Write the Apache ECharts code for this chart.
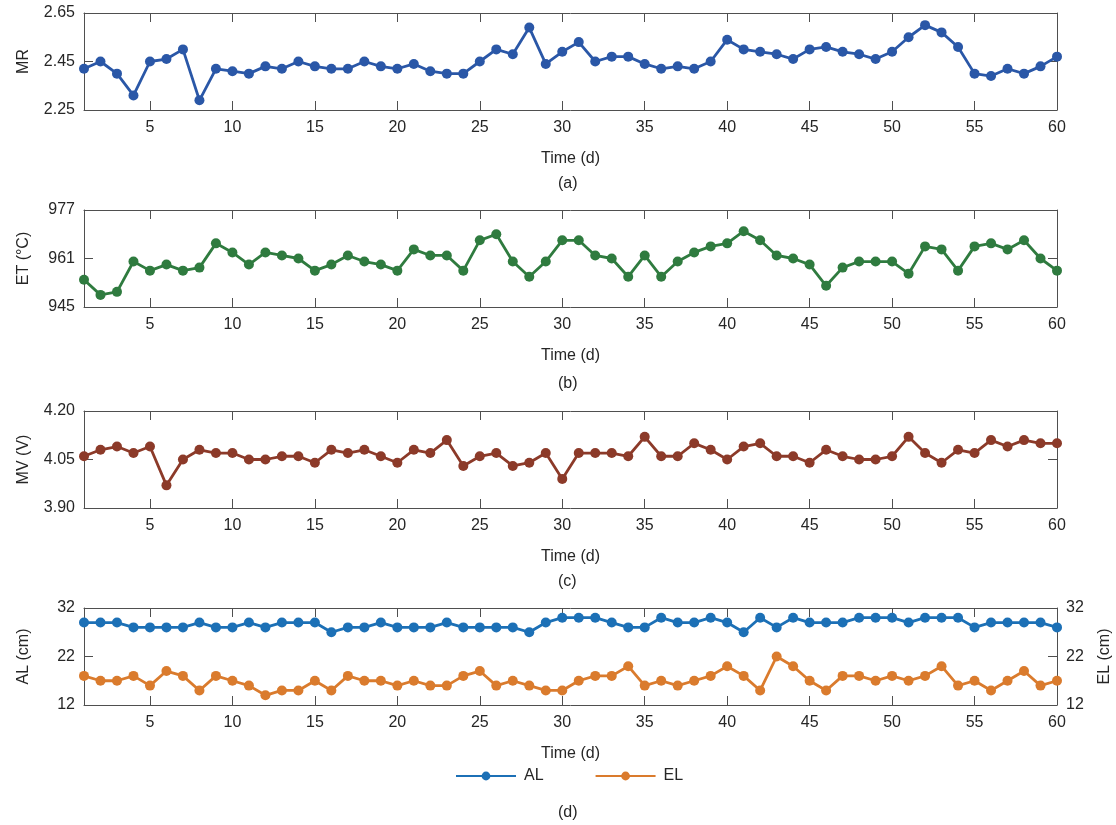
<!DOCTYPE html>
<html>
<head>
<meta charset="utf-8">
<script src="https://cdn.jsdelivr.net/npm/echarts@6/dist/echarts.min.js"></script>
<style>
html,body{margin:0;padding:0;background:#fff;}
#chart{width:1116px;height:825px;}
</style>
</head>
<body>
<div id="chart"></div>
<script>
const days = Array.from({length: 60}, (_, i) => i + 1);
const xTicks = [5, 10, 15, 20, 25, 30, 35, 40, 45, 50, 55, 60];

const MR = [2.42,2.45,2.40,2.31,2.45,2.46,2.50,2.29,2.42,2.41,
            2.40,2.43,2.42,2.45,2.43,2.42,2.42,2.45,2.43,2.42,
            2.44,2.41,2.40,2.40,2.45,2.50,2.48,2.59,2.44,2.49,
            2.53,2.45,2.47,2.47,2.44,2.42,2.43,2.42,2.45,2.54,
            2.50,2.49,2.48,2.46,2.50,2.51,2.49,2.48,2.46,2.49,
            2.55,2.60,2.57,2.51,2.40,2.39,2.42,2.40,2.43,2.47];
const mrTicks = [2.25, 2.45, 2.65];

const ET = [954,949,950,960,957,959,957,958,966,963,
            959,963,962,961,957,959,962,960,959,957,
            964,962,962,957,967,969,960,955,960,967,
            967,962,961,955,962,955,960,963,965,966,
            970,967,962,961,959,952,958,960,960,960,
            956,965,964,957,965,966,964,967,961,957];
const etTicks = [945, 961, 977];

const MV = [4.06,4.08,4.09,4.07,4.09,3.97,4.05,4.08,4.07,4.07,
            4.05,4.05,4.06,4.06,4.04,4.08,4.07,4.08,4.06,4.04,
            4.08,4.07,4.11,4.03,4.06,4.07,4.03,4.04,4.07,3.99,
            4.07,4.07,4.07,4.06,4.12,4.06,4.06,4.10,4.08,4.05,
            4.09,4.10,4.06,4.06,4.04,4.08,4.06,4.05,4.05,4.06,
            4.12,4.07,4.04,4.08,4.07,4.11,4.09,4.11,4.10,4.10];
const mvTicks = [3.90, 4.05, 4.20];

const AL = [29,29,29,28,28,28,28,29,28,28,
            29,28,29,29,29,27,28,28,29,28,
            28,28,29,28,28,28,28,27,29,30,
            30,30,29,28,28,30,29,29,30,29,
            27,30,28,30,29,29,29,30,30,30,
            29,30,30,30,28,29,29,29,29,28];
const EL = [18,17,17,18,16,19,18,15,18,17,
            16,14,15,15,17,15,18,17,17,16,
            17,16,16,18,19,16,17,16,15,15,
            17,18,18,20,16,17,16,17,18,20,
            18,15,22,20,17,15,18,18,17,18,
            17,18,20,16,17,15,17,19,16,17];
const lTicks = [12, 22, 32];

const pair = arr => days.map((d, i) => [d, arr[i]]);

const TXT = '#262626';
const AX = '#4f4f4f';
const FONT = 'Liberation Sans, Arial, sans-serif';
const grids = [13, 210, 411, 608].map(t => ({left: 84, right: 59, top: t, height: 97, containLabel: false, outerBoundsMode: 'none'}));

function xAxes(gi) {
  const base = {
    type: 'value', min: 1, max: 60, gridIndex: gi,
    axisLine: {show: true, onZero: false, lineStyle: {color: AX, width: 1}},
    splitLine: {show: false}
  };
  return [
    Object.assign({}, base, {
      position: 'bottom',
      axisTick: {show: true, inside: true, length: 9, customValues: xTicks, lineStyle: {color: AX}},
      axisLabel: {show: true, customValues: xTicks, margin: 10, color: TXT, fontSize: 16, fontFamily: FONT},
      name: 'Time (d)', nameLocation: 'middle', nameGap: 41,
      nameTextStyle: {color: TXT, fontSize: 16, fontFamily: FONT}
    }),
    Object.assign({}, base, {
      position: 'top',
      axisTick: {show: true, inside: true, length: 9, customValues: xTicks, lineStyle: {color: AX}},
      axisLabel: {show: false}
    })
  ];
}

function yAxes(gi, ticks, name, decimals, rightName) {
  const base = {
    type: 'value', min: ticks[0], max: ticks[ticks.length - 1], gridIndex: gi,
    axisLine: {show: true, onZero: false, lineStyle: {color: AX, width: 1}},
    splitLine: {show: false},
    axisTick: {show: true, inside: true, length: 9, customValues: ticks, lineStyle: {color: AX}}
  };
  const fmt = v => Number(v).toFixed(decimals);
  const left = Object.assign({}, base, {
    position: 'left',
    axisLabel: {show: true, customValues: ticks, formatter: fmt, margin: 9, color: TXT, fontSize: 16, fontFamily: FONT},
    name: name, nameLocation: 'middle', nameGap: 52, nameRotate: 90,
    nameTextStyle: {color: TXT, fontSize: 16, fontFamily: FONT}
  });
  const right = Object.assign({}, base, {
    position: 'right',
    axisLabel: rightName ? {show: true, customValues: ticks, formatter: fmt, margin: 9, color: TXT, fontSize: 16, fontFamily: FONT} : {show: false}
  });
  if (rightName) {
    right.name = rightName;
    right.nameLocation = 'middle';
    right.nameGap = 40;
    right.nameRotate = 90;
    right.nameTextStyle = {color: TXT, fontSize: 16, fontFamily: FONT};
  }
  return [left, right];
}

const xAxis = [].concat(xAxes(0), xAxes(1), xAxes(2), xAxes(3));
const yAxis = [].concat(
  yAxes(0, mrTicks, 'MR', 2),
  yAxes(1, etTicks, 'ET (°C)', 0),
  yAxes(2, mvTicks, 'MV (V)', 2),
  yAxes(3, lTicks, 'AL (cm)', 0, 'EL (cm)')
);

function lineSeries(name, data, color, xi, yi) {
  return {
    name: name, type: 'line', data: pair(data), xAxisIndex: xi, yAxisIndex: yi,
    symbol: 'circle', symbolSize: 10, showSymbol: true,
    lineStyle: {color: color, width: 2.8},
    itemStyle: {color: color, borderWidth: 0},
    emphasis: {disabled: true},
    animation: false
  };
}

const option = {
  backgroundColor: '#ffffff',
  animation: false,
  grid: grids,
  xAxis: xAxis,
  yAxis: yAxis,
  legend: {
    data: ['AL', 'EL'],
    top: 763, left: 450,
    itemWidth: 60, itemHeight: 11, itemGap: 51,
    textStyle: {color: TXT, fontSize: 16, fontFamily: FONT, padding: [0, 0, 0, 3]}
  },
  graphic: [
    {type: 'text', left: 558, top: 176, style: {text: '(a)', fill: TXT, font: '16px ' + FONT}},
    {type: 'text', left: 558, top: 376, style: {text: '(b)', fill: TXT, font: '16px ' + FONT}},
    {type: 'text', left: 558, top: 574, style: {text: '(c)', fill: TXT, font: '16px ' + FONT}},
    {type: 'text', left: 558, top: 805, style: {text: '(d)', fill: TXT, font: '16px ' + FONT}}
  ],
  series: [
    lineSeries('MR', MR, '#2A57A7', 0, 0),
    lineSeries('ET', ET, '#2F7B3F', 2, 2),
    lineSeries('MV', MV, '#8C3A29', 4, 4),
    lineSeries('AL', AL, '#1C70B6', 6, 6),
    lineSeries('EL', EL, '#DA7B2D', 6, 7)
  ]
};

const chart = echarts.init(document.getElementById('chart'), null, {renderer: 'canvas'});
chart.setOption(option);
</script>
</body>
</html>
